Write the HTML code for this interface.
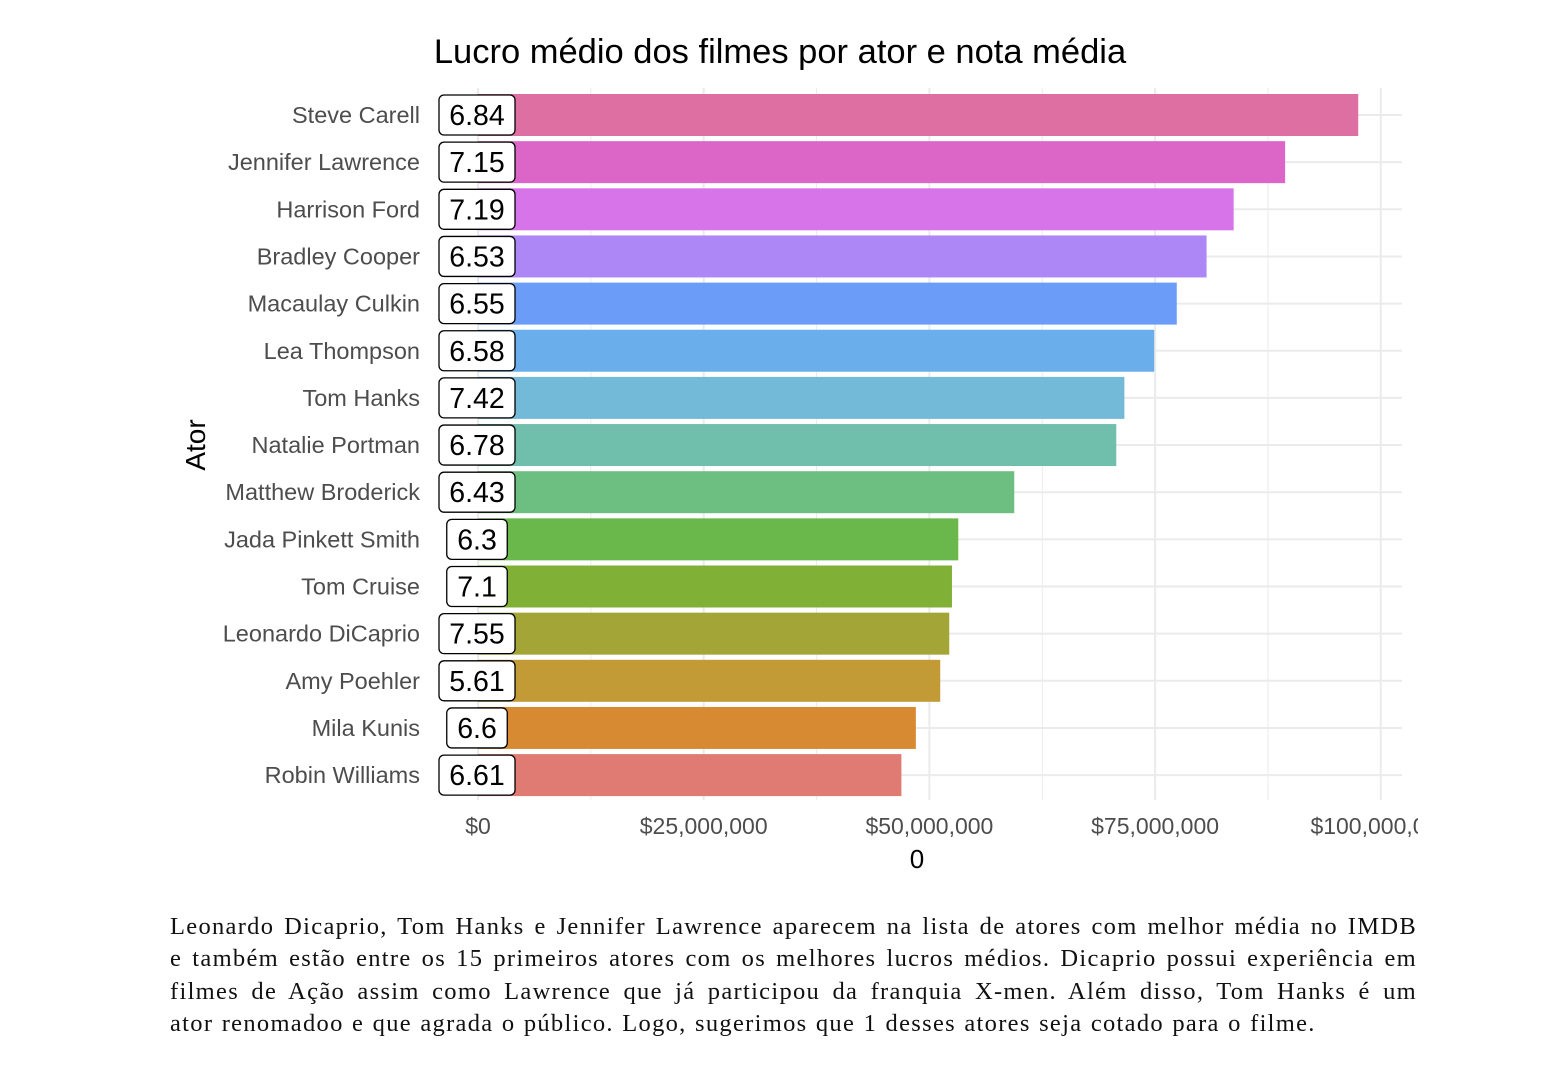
<!DOCTYPE html>
<html><head><meta charset="utf-8"><style>
body{margin:0;background:#fff;width:1550px;height:1084px;overflow:hidden;font-family:"Liberation Sans",sans-serif}
#cap{position:absolute;left:170px;top:911px;width:1247px;font-family:"Liberation Serif",serif;font-size:24.5px;letter-spacing:1.3px;word-spacing:1px;line-height:32.3px;text-align:justify;color:#111;white-space:nowrap}
#cap span{display:block;text-align-last:justify;white-space:normal}
</style></head><body>
<svg id="chart" width="1550" height="900" style="position:absolute;left:0;top:0">
<defs><clipPath id="clip"><rect x="0" y="0" width="1418" height="900"/></clipPath></defs>
<g id="g" clip-path="url(#clip)"></g>
</svg>
<div id="cap"><span>Leonardo Dicaprio, Tom Hanks e Jennifer Lawrence aparecem na lista de atores com melhor média no IMDB</span><span>e também estão entre os 15 primeiros atores com os melhores lucros médios. Dicaprio possui experiência em</span><span>filmes de Ação assim como Lawrence que já participou da franquia X-men. Além disso, Tom Hanks é um</span>ator renomadoo e que agrada o público. Logo, sugerimos que 1 desses atores seja cotado para o filme.</div>
<script>
const actors=["Steve Carell","Jennifer Lawrence","Harrison Ford","Bradley Cooper","Macaulay Culkin","Lea Thompson","Tom Hanks","Natalie Portman","Matthew Broderick","Jada Pinkett Smith","Tom Cruise","Leonardo DiCaprio","Amy Poehler","Mila Kunis","Robin Williams"];
const profits=[97.5e6,89.4e6,83.7e6,80.7e6,77.4e6,74.9e6,71.6e6,70.7e6,59.4e6,53.2e6,52.5e6,52.2e6,51.2e6,48.5e6,46.9e6];
const ratings=["6.84","7.15","7.19","6.53","6.55","6.58","7.42","6.78","6.43","6.3","7.1","7.55","5.61","6.6","6.61"];
const colors=["#de6fa2","#dc66c8","#d774ea","#ad87f6","#6b9df8","#6aaeec","#72bad7","#70bfad","#6cbf80","#6ab84c","#80b035","#a3a536","#c29a36","#d88a33","#e07b73"];
const xticks=[0,25e6,50e6,75e6,100e6];
const xtickLabels=["$0","$25,000,000","$50,000,000","$75,000,000","$100,000,000"];
const NS="http://www.w3.org/2000/svg",g=document.getElementById('g');
const x=v=>478+v/25e6*225.7;
const y=i=>115+i*47.15;
function mk(t,a,txt){const e=document.createElementNS(NS,t);for(const k in a)e.setAttribute(k,a[k]);if(txt!==undefined)e.textContent=txt;g.appendChild(e);return e;}
for(let i=0;i<xticks.length;i++){const l=mk('line',{x1:x(xticks[i]),x2:x(xticks[i]),y1:88,y2:800,stroke:'#ebebeb','stroke-width':2});


if(i<xticks.length-1){const m=mk('line',{x1:x(xticks[i]+12.5e6),x2:x(xticks[i]+12.5e6),y1:88,y2:800,stroke:'#ebebeb','stroke-width':1});

}
const t=mk('text',{x:x(xticks[i]),y:834,'text-anchor':'middle','font-size':23,fill:'#4d4d4d'},xtickLabels[i]);

}
actors.forEach((a,i)=>{const l=mk('line',{x1:455,x2:1402,y1:y(i),y2:y(i),stroke:'#ebebeb','stroke-width':2});

});
actors.forEach((a,i)=>{
const b=mk('rect',{x:x(0),y:y(i)-21,width:x(profits[i])-x(0),height:42,fill:colors[i]});


const t=mk('text',{x:420,y:y(i)+8,'text-anchor':'end','font-size':23.5,fill:'#4d4d4d'},a);


const w=ratings[i].length*15.5+14;
const r=mk('rect',{x:477-w/2,y:y(i)-20,width:w,height:40,rx:5,fill:'#fff',stroke:'#000','stroke-width':1.3});


const rt=mk('text',{x:477,y:y(i)+10,'text-anchor':'middle','font-size':28.5,fill:'#000'},ratings[i]);


});
const ti=mk('text',{x:780,y:63,'text-anchor':'middle','font-size':34.5,fill:'#000'},'Lucro médio dos filmes por ator e nota média');


const xt=mk('text',{x:917,y:868,'text-anchor':'middle','font-size':26,fill:'#000'},'0');


const yt=mk('text',{x:0,y:0,'text-anchor':'middle','font-size':28,fill:'#000',transform:'translate(205,445) rotate(-90)'},'Ator');


</script>
</body></html>
